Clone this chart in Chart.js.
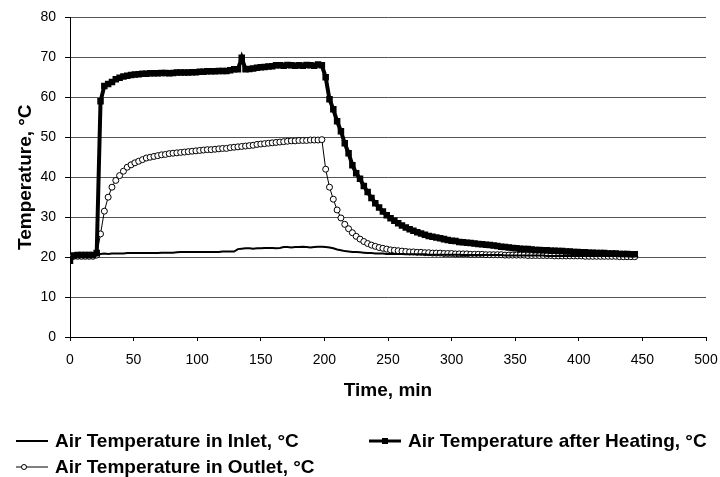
<!DOCTYPE html>
<html>
<head>
<meta charset="utf-8">
<script src="https://cdn.jsdelivr.net/npm/chart.js@4"></script>
<style>
  html, body { margin: 0; padding: 0; background: #fff; }
  #wrap { width: 720px; height: 477px; position: relative; }
</style>
</head>
<body>
<div id="wrap"><canvas id="grafico"></canvas></div>
<script>
// tempo em minutos (passo de 3 min)
const tempo = [];
for (let t = 0; t <= 444; t += 3) tempo.push(t);

const xTicks = [0, 50, 100, 150, 200, 250, 300, 350, 400, 450, 500];
const yTicks = [0, 10, 20, 30, 40, 50, 60, 70, 80];

const nomes = [
  'Air Temperature in Inlet, °C',
  'Air Temperature after Heating, °C',
  'Air Temperature in Outlet, °C'
];

// entrada
const tempEntrada = [
  20.0, 20.1, 20.1, 20.2, 20.2, 20.2, 20.2, 20.4, 20.8, 20.9,
  20.8, 20.9, 20.9, 20.9, 20.9, 21.0, 21.0, 21.0, 21.0, 21.0,
  21.0, 21.0, 21.0, 21.0, 21.1, 21.1, 21.1, 21.1, 21.2, 21.3,
  21.3, 21.3, 21.3, 21.3, 21.3, 21.3, 21.3, 21.3, 21.3, 21.3,
  21.4, 21.4, 21.4, 21.4, 22.0, 22.1, 22.2, 22.2, 22.1, 22.2,
  22.2, 22.3, 22.3, 22.3, 22.2, 22.3, 22.5, 22.5, 22.4, 22.5,
  22.5, 22.6, 22.5, 22.4, 22.5, 22.6, 22.6, 22.5, 22.4, 22.2,
  21.9, 21.7, 21.5, 21.4, 21.3, 21.3, 21.2, 21.1, 21.0, 21.0,
  20.9, 20.9, 20.9, 20.8, 20.8, 20.8, 20.8, 20.8, 20.7, 20.7,
  20.7, 20.7, 20.7, 20.7, 20.6, 20.6, 20.6, 20.6, 20.6, 20.6,
  20.6, 20.6, 20.6, 20.5, 20.5, 20.5, 20.5, 20.5, 20.5, 20.5,
  20.5, 20.5, 20.5, 20.5, 20.4, 20.4, 20.4, 20.4, 20.4, 20.4,
  20.4, 20.4, 20.4, 20.4, 20.4, 20.3, 20.3, 20.3, 20.3, 20.3,
  20.3, 20.3, 20.3, 20.3, 20.3, 20.3, 20.3, 20.3, 20.3, 20.3,
  20.3, 20.3, 20.3, 20.3, 20.3, 20.3, 20.3, 20.3, 20.3
];

// depois do aquecimento
const tempAquecimento = [
  19.1, 20.4, 20.5, 20.5, 20.5, 20.5, 20.5, 21.0, 59.0, 62.8,
  63.3, 63.8, 64.5, 64.9, 65.2, 65.4, 65.6, 65.7, 65.8, 65.9,
  65.9, 66.0, 66.0, 66.0, 66.1, 66.1, 66.0, 66.1, 66.2, 66.2,
  66.2, 66.2, 66.3, 66.3, 66.4, 66.4, 66.5, 66.5, 66.5, 66.6,
  66.6, 66.6, 66.8, 67.0, 67.0, 69.9, 67.0, 67.1, 67.2, 67.4,
  67.5, 67.6, 67.7, 67.8, 68.0, 68.0, 67.9, 68.1, 68.0, 67.9,
  68.0, 67.9, 68.1, 68.0, 67.9, 68.2, 68.0, 65.0, 59.5, 57.0,
  54.0, 51.5, 48.5, 46.0, 43.0, 41.0, 39.6, 37.8, 36.3, 34.8,
  33.5, 32.4, 31.4, 30.5, 29.7, 29.1, 28.5, 27.9, 27.4, 27.0,
  26.6, 26.2, 25.9, 25.6, 25.3, 25.1, 24.9, 24.7, 24.5, 24.3,
  24.1, 24.0, 23.8, 23.7, 23.6, 23.5, 23.4, 23.3, 23.2, 23.1,
  23.0, 22.9, 22.8, 22.6, 22.5, 22.4, 22.3, 22.2, 22.1, 22.0,
  22.0, 21.9, 21.8, 21.8, 21.7, 21.7, 21.6, 21.6, 21.5, 21.5,
  21.4, 21.4, 21.3, 21.3, 21.2, 21.2, 21.1, 21.1, 21.0, 21.0,
  21.0, 20.9, 20.9, 20.9, 20.8, 20.8, 20.8, 20.7, 20.7
];

// saida
const tempSaida = [
  20.0, 20.2, 20.2, 20.2, 20.2, 20.2, 20.2, 20.5, 25.8, 31.5,
  35.0, 37.5, 39.2, 40.4, 41.5, 42.5, 43.1, 43.6, 44.0, 44.4,
  44.8, 45.0, 45.2, 45.4, 45.6, 45.7, 45.9, 46.0, 46.1, 46.2,
  46.3, 46.4, 46.5, 46.6, 46.7, 46.8, 46.9, 46.9, 47.0, 47.1,
  47.2, 47.2, 47.4, 47.5, 47.6, 47.7, 47.8, 47.9, 48.0, 48.2,
  48.3, 48.4, 48.5, 48.6, 48.7, 48.8, 48.9, 49.0, 49.1, 49.1,
  49.2, 49.2, 49.2, 49.3, 49.3, 49.3, 49.4, 42.0, 37.5, 34.5,
  31.8, 29.8, 28.2, 27.1, 26.1, 25.2, 24.5, 23.9, 23.4, 23.0,
  22.7, 22.4, 22.2, 22.0, 21.8, 21.7, 21.6, 21.5, 21.4, 21.3,
  21.3, 21.2, 21.2, 21.1, 21.1, 21.0, 21.0, 21.0, 20.9, 20.9,
  20.9, 20.8, 20.8, 20.8, 20.8, 20.7, 20.7, 20.7, 20.7, 20.6,
  20.6, 20.6, 20.6, 20.6, 20.5, 20.5, 20.5, 20.5, 20.5, 20.5,
  20.4, 20.4, 20.4, 20.4, 20.4, 20.4, 20.4, 20.3, 20.3, 20.3,
  20.3, 20.3, 20.3, 20.3, 20.3, 20.2, 20.2, 20.2, 20.2, 20.2,
  20.2, 20.2, 20.2, 20.2, 20.1, 20.1, 20.1, 20.1, 20.1
];

function pontos(valores) {
  return valores.map((v, i) => ({ x: tempo[i], y: v }));
}

const fonte = "Arial, 'Liberation Sans', sans-serif";

// legenda desenhada a mao (duas colunas)
const posLegenda = [[16, 441], [369, 441], [16, 467]];
const legendaPlugin = {
  id: 'legendaManual',
  afterDraw(chart) {
    const ctx = chart.ctx;
    ctx.save();
    chart.data.datasets.forEach((ds, i) => {
      const [x, y] = posLegenda[i];
      ctx.strokeStyle = '#000';
      ctx.lineWidth = Math.min(ds.borderWidth, 3);
      ctx.beginPath();
      ctx.moveTo(x, y);
      ctx.lineTo(x + 32, y);
      ctx.stroke();
      if (ds.pointStyle === 'rect') {
        ctx.fillStyle = '#000';
        ctx.fillRect(x + 13, y - 3, 6, 6);
      } else if (ds.pointRadius > 0) {
        ctx.fillStyle = '#fff';
        ctx.lineWidth = 1;
        ctx.beginPath();
        ctx.arc(x + 8, y, 2.5, 0, Math.PI * 2);
        ctx.fill();
        ctx.stroke();
      }
      ctx.fillStyle = '#000';
      ctx.font = 'bold 19px ' + fonte;
      ctx.textBaseline = 'middle';
      ctx.textAlign = 'left';
      ctx.fillText(ds.label, x + 39, y + 1);
    });
    ctx.restore();
  }
};

const dados = {
  datasets: [
    {
      label: nomes[0],
      data: pontos(tempEntrada),
      borderColor: '#000',
      borderWidth: 2,
      pointRadius: 0
    },
    {
      label: nomes[1],
      data: pontos(tempAquecimento),
      borderColor: '#000',
      backgroundColor: '#000',
      borderWidth: 4,
      pointStyle: 'rect',
      pointRadius: 4.6,
      pointBorderWidth: 0
    },
    {
      label: nomes[2],
      data: pontos(tempSaida),
      borderColor: '#000',
      backgroundColor: '#fff',
      borderWidth: 1,
      pointStyle: 'circle',
      pointRadius: 3,
      pointBorderWidth: 1,
      pointBorderColor: '#000',
      pointBackgroundColor: '#fff'
    }
  ]
};

const config = {
  type: 'line',
  data: dados,
  plugins: [legendaPlugin],
  options: {
    responsive: true,
    maintainAspectRatio: false,
    animation: false,
    layout: { padding: { top: 13, right: 14, bottom: 72, left: 0 } },
    plugins: { legend: { display: false }, tooltip: { enabled: false } },
    scales: {
      x: {
        type: 'linear',
        min: 0,
        max: 500,
        afterBuildTicks: (s) => { s.ticks = xTicks.map(v => ({ value: v })); },
        afterFit: (s) => { s.height = 68; s.paddingLeft = 0; s.paddingRight = 0; },
        grid: { drawOnChartArea: false, drawTicks: true, tickLength: 4, color: '#000' },
        border: { color: '#000', width: 1 },
        ticks: { color: '#000', font: { family: fonte, size: 14 }, padding: 11, maxRotation: 0 },
        title: {
          display: true,
          text: 'Time, min',
          color: '#000',
          font: { family: fonte, size: 19, weight: 'bold' },
          padding: { top: 0, bottom: 3 }
        }
      },
      y: {
        min: 0,
        max: 80,
        afterBuildTicks: (s) => { s.ticks = yTicks.map(v => ({ value: v })); },
        afterFit: (s) => { s.width = 70; },
        grid: { color: '#555', lineWidth: 1, tickLength: 5, tickColor: '#000' },
        border: { color: '#000', width: 1 },
        ticks: { color: '#000', font: { family: fonte, size: 14 }, padding: 9 },
        title: {
          display: true,
          text: 'Temperature, °C',
          color: '#000',
          font: { family: fonte, size: 19, weight: 'bold' },
          padding: { top: 14, bottom: 0 }
        }
      }
    }
  }
};

let myChart = new Chart(document.getElementById('grafico'), config);
</script>
</body>
</html>
